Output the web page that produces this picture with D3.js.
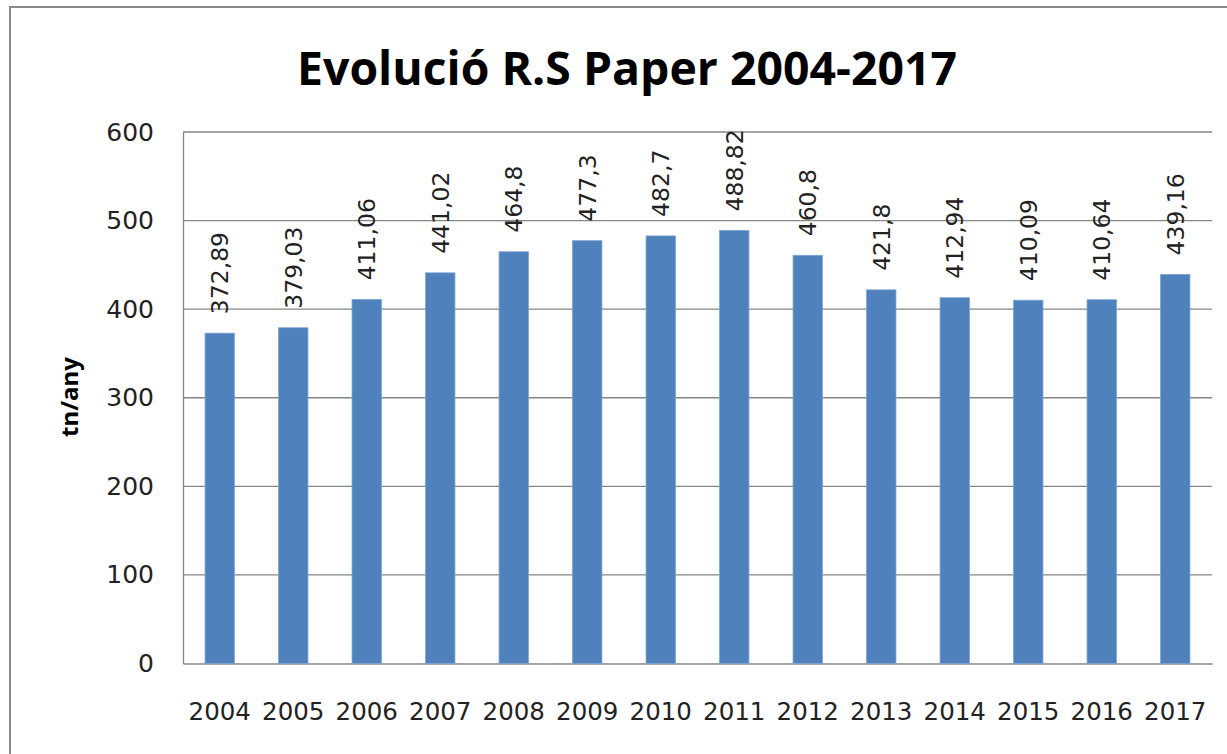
<!DOCTYPE html>
<html><head><meta charset="utf-8">
<script src="https://cdn.jsdelivr.net/npm/d3@7"></script>
<style>body{margin:0;background:#fff;}svg{display:block;}</style>
</head><body>
<svg id="chart" width="1227" height="754"></svg>
<script>
const years = ["2004","2005","2006","2007","2008","2009","2010","2011","2012","2013","2014","2015","2016","2017"];
const values = [372.89,379.03,411.06,441.02,464.8,477.3,482.7,488.82,460.8,421.8,412.94,410.09,410.64,439.16];
const yTicks = [0,100,200,300,400,500,600];
const title = "Evolució R.S Paper 2004-2017";
const yTitle = "tn/any";

const svg = d3.select("#chart");
const W = 1227, H = 754;
const m = {left:183, right:1212, top:132, bottom:663.5};

svg.append("rect").attr("x",10).attr("y",7).attr("width",W).attr("height",H)
  .attr("fill","#fff").attr("stroke","#898989").attr("stroke-width",2);

const x = d3.scaleBand().domain(years).range([m.left,m.right]).paddingInner(0.6).paddingOuter(0.3);
const y = d3.scaleLinear().domain([0,600]).range([m.bottom,m.top]);

// gridlines
svg.append("g").selectAll("line").data(yTicks.filter(d=>d>0)).join("line")
  .attr("x1",m.left).attr("x2",m.right).attr("y1",d=>y(d)).attr("y2",d=>y(d))
  .attr("stroke","#868686").attr("stroke-width",1.3);

// y axis
const ya = svg.append("g").attr("transform",`translate(${m.left},0)`)
  .call(d3.axisLeft(y).tickValues(yTicks).tickSize(0).tickPadding(29));
ya.select(".domain").attr("stroke","#868686").attr("stroke-width",1.3);
ya.selectAll("text").attr("font-family","DejaVu Sans").attr("font-size",25).attr("fill","#222");

// x axis
const xa = svg.append("g").attr("transform",`translate(0,${m.bottom})`)
  .call(d3.axisBottom(x).tickSize(0).tickPadding(39));
xa.select(".domain").attr("stroke","#868686").attr("stroke-width",1.3);
xa.selectAll("text").attr("font-family","DejaVu Sans").attr("font-size",24.5).attr("fill","#222");

// bars
svg.append("g").selectAll("rect").data(values).join("rect")
  .attr("x",(d,i)=>x(years[i])).attr("width",x.bandwidth())
  .attr("y",d=>y(d)).attr("height",d=>y(0)-y(d))
  .attr("fill","#4F81BD").attr("stroke","#7FA3D3").attr("stroke-width",0.8);

// data labels
svg.append("g").selectAll("text").data(values).join("text")
  .attr("transform",(d,i)=>`translate(${x(years[i])+x.bandwidth()/2},${y(d)-19}) rotate(-90)`)
  .attr("dy","0.36em").attr("text-anchor","start")
  .attr("font-family","DejaVu Sans").attr("font-size",23.5).attr("fill","#222")
  .text(d=>d3.format(".2~f")(d).replace(".",","));

// title
const t = svg.append("text").attr("x",627).attr("y",85).attr("text-anchor","middle")
  .attr("font-family","Open Sans").attr("font-weight","bold").attr("font-size",50).attr("fill","#000")
  .text(title);
const tw = t.node().getComputedTextLength();
t.attr("font-size", 50*660/tw);

// y title
const yt = svg.append("text").attr("transform","translate(78,397) rotate(-90)").attr("text-anchor","middle")
  .attr("font-family","Open Sans").attr("font-weight","bold").attr("font-size",21).attr("fill","#000")
  .text(yTitle);
const ytw = yt.node().getComputedTextLength();
yt.attr("font-size", 21*80/ytw);
</script>
</body></html>
